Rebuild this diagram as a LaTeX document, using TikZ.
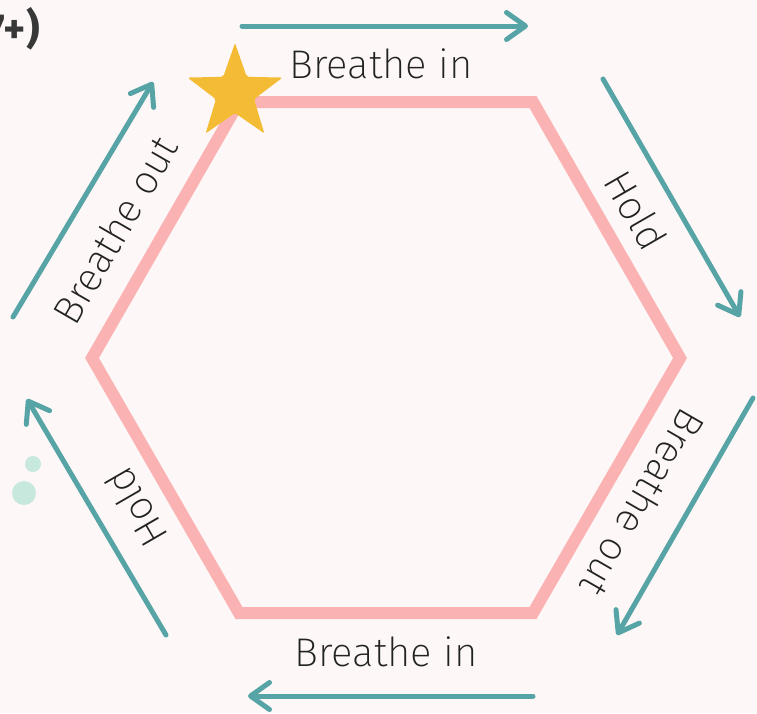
\documentclass[tikz,border=0pt]{standalone}
\usepackage{fontspec}
\setmainfont{Fira Sans ExtraLight}
\newfontfamily\headfont{Fira Sans}
\usepackage{tikz}
\usetikzlibrary{arrows.meta,shapes.geometric}
\definecolor{bgblush}{RGB}{253,247,247}
\definecolor{hexpink}{RGB}{250,178,178}
\definecolor{flowteal}{RGB}{86,164,166}
\definecolor{stargold}{RGB}{244,188,53}
\definecolor{dotmint}{RGB}{198,232,221}
\definecolor{inkgrey}{RGB}{34,34,34}
\tikzset{
  hexline/.style={draw=hexpink, line width=12pt, line join=miter},
  flow/.style={draw=flowteal, line width=5pt, line cap=round,
    -{Straight Barb[length=19pt,width=27pt,round]}},
  lbl/.style={font=\fontsize{40}{48}\selectfont, text=inkgrey, inner sep=0pt},
  starmark/.style={star, star points=5, star point ratio=2.5, fill=stargold,
    minimum size=100pt, inner sep=0pt, rounded corners=2pt},
  dot/.style={circle, fill=dotmint, inner sep=0pt, minimum size=#1},
}
\begin{document}
\begin{tikzpicture}[x=1pt,y=-1pt]
  \useasboundingbox (0,0) rectangle (757,713);
  \fill[bgblush] (0,0) rectangle (757,713);
  % cut-off heading
  \node[font=\headfont\bfseries\fontsize{42}{48}\selectfont, text=inkgrey!90, anchor=east, inner sep=0pt] (head) at (40,29) {7+)};
  % hexagon corners
  \coordinate (h1) at (239,102);
  \coordinate (h2) at (533,102);
  \coordinate (h3) at (680,358);
  \coordinate (h4) at (533,613);
  \coordinate (h5) at (239,613);
  \coordinate (h6) at (92,358);
  \draw[hexline] (h1) -- (h2) -- (h3) -- (h4) -- (h5) -- (h6) -- cycle;
  \node[starmark] (start) at (235,93) {};
  % arrows round the hexagon
  \foreach \n/\s/\e in {top/{242,26}/{528,26},tr/{603,79}/{740,317},br/{753,398}/{617,635},
                        bot/{533,696}/{248,696},bl/{166,635}/{27,399},tl/{13,317}/{153,82}}{
    \coordinate (\n s) at (\s);
    \coordinate (\n e) at (\e);
    \draw[flow] (\n s) -- (\n e);
  }
  % labels
  \node[lbl] (inTop) at (381,64) {Breathe in};
  \node[lbl,rotate=-60] (holdTop) at (636,210) {Hold};
  \node[lbl,rotate=-120] (outBot) at (643,503) {Breathe out};
  \node[lbl] (inBot) at (386,652) {Breathe in};
  \node[lbl,rotate=120] (holdBot) at (136,508) {Hold};
  \node[lbl,rotate=60] (outTop) at (115,230) {Breathe out};
  % dots
  \node[dot=16pt] (dotA) at (33,464) {};
  \node[dot=24pt] (dotB) at (24,493) {};
\end{tikzpicture}
\end{document}
